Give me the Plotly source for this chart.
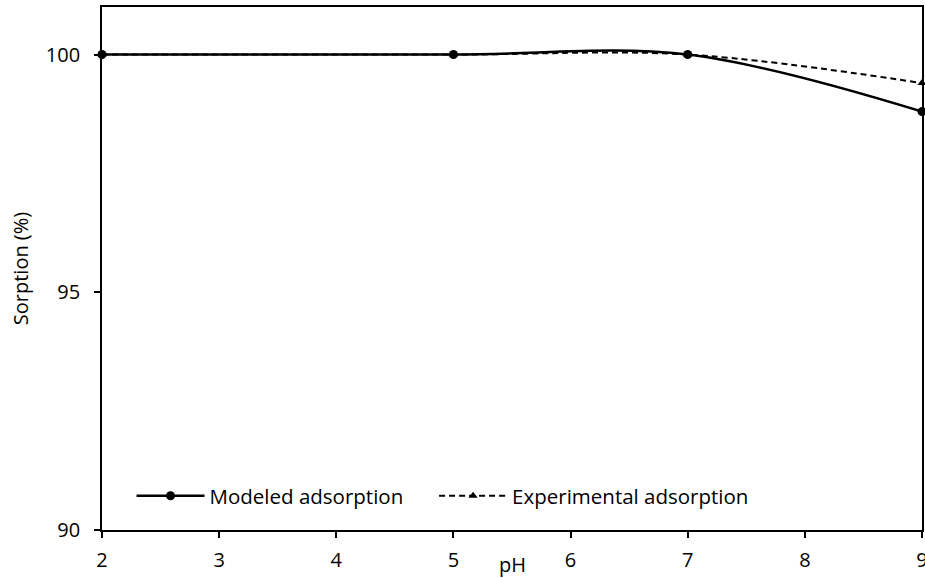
import plotly.graph_objects as go

ph = [2, 5, 7, 9]
modeled = [100.0, 100.0, 100.0, 98.8]
experimental = [100.0, 100.0, 100.0, 99.4]
y_ticks = [90, 95, 100]
x_ticks = [2, 3, 4, 5, 6, 7, 8, 9]

FONT = "Open Sans"

fig = go.Figure()
fig.add_trace(go.Scatter(
    x=ph, y=modeled, name="Modeled adsorption", mode="lines+markers",
    line=dict(color="black", width=2.5, shape="spline", smoothing=1),
    marker=dict(symbol="circle", size=9, color="black"),
    cliponaxis=False, legend="legend",
))
fig.add_trace(go.Scatter(
    x=ph, y=experimental, name="Experimental adsorption", mode="lines+markers",
    line=dict(color="black", width=2, dash="6px,4px", shape="spline", smoothing=1),
    marker=dict(symbol="triangle-up", size=8, color="black"),
    cliponaxis=False, legend="legend2",
))

leg_common = dict(orientation="h", y=0.027, xanchor="left", yanchor="bottom",
                  bgcolor="rgba(0,0,0,0)", font=dict(family=FONT, size=20.5),
                  itemwidth=68)

fig.update_layout(
    width=925, height=578,
    margin=dict(l=102, r=3, t=7, b=48),
    paper_bgcolor="white", plot_bgcolor="white",
    font=dict(family=FONT, size=20, color="black"),
    showlegend=True,
    legend=dict(x=0.036, **leg_common),
    legend2=dict(x=0.405, **leg_common),
    annotations=[dict(text="pH", x=0.5, y=-0.066, xref="paper", yref="paper",
                      xanchor="center", yanchor="middle", showarrow=False,
                      font=dict(family=FONT, size=20))],
)
fig.update_xaxes(
    range=[2, 9], tickvals=x_ticks, ticktext=[str(v) for v in x_ticks],
    showline=True, linecolor="black", linewidth=1.8, mirror=True,
    ticks="outside", ticklen=6, tickwidth=1.5, tickcolor="black",
    ticklabelstandoff=5, ticklabeloverflow="allow",
    showgrid=False, zeroline=False, automargin=False,
)
fig.update_yaxes(
    range=[90, 101], tickvals=y_ticks, ticktext=[str(v) for v in y_ticks],
    showline=True, linecolor="black", linewidth=1.8, mirror=True,
    ticks="outside", ticklen=6, tickwidth=1.5, tickcolor="black",
    ticklabelstandoff=10,
    showgrid=False, zeroline=False, automargin=False,
    title=dict(text="Sorption (%)", standoff=12, font=dict(size=20)),
)

fig.write_html(
    "out.html",
    config={"displayModeBar": False},
    post_script="document.body.style.margin='0';document.body.style.overflow='hidden';",
)
